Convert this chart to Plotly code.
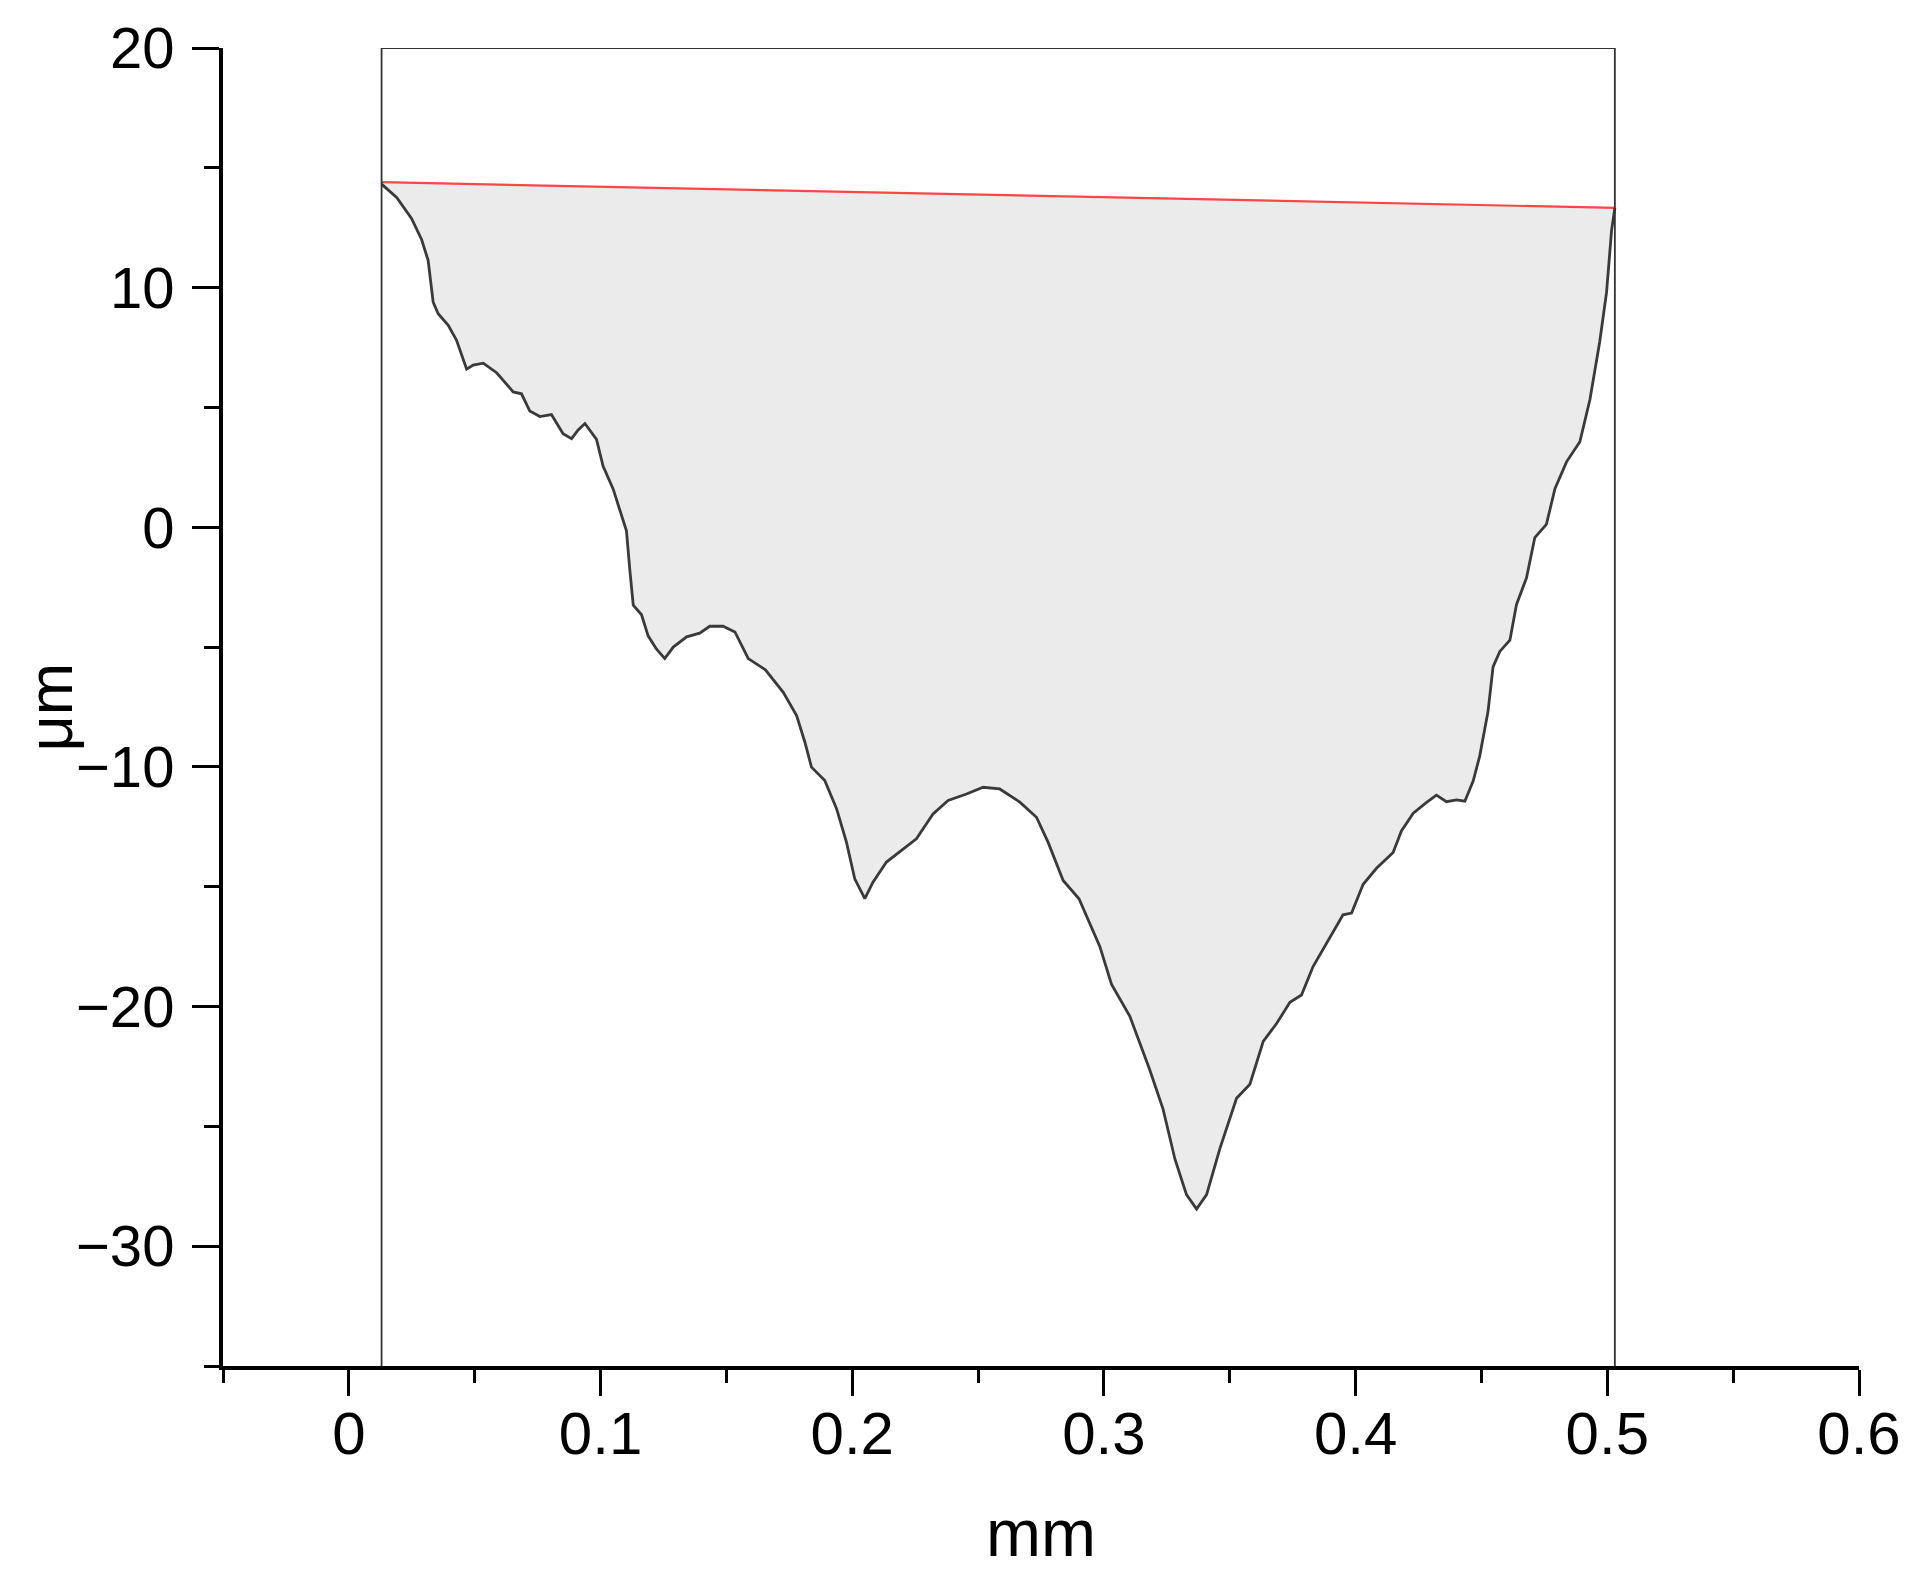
import plotly.graph_objects as go

# surface profile (mm, um)
profile_x = [0.0130, 0.0190, 0.0249, 0.0289, 0.0315, 0.0335, 0.0355, 0.0395, 0.0428, 0.0468,
             0.0494, 0.0534, 0.0587, 0.0653, 0.0686, 0.0719, 0.0759, 0.0805, 0.0851, 0.0885,
             0.0911, 0.0938, 0.0984, 0.1010, 0.1050, 0.1090, 0.1103, 0.1116, 0.1130, 0.1163,
             0.1189, 0.1222, 0.1255, 0.1289, 0.1342, 0.1394, 0.1434, 0.1487, 0.1534, 0.1587,
             0.1655, 0.1726, 0.1779, 0.1812, 0.1838, 0.1891, 0.1938, 0.1977, 0.2010, 0.2050,
             0.2083, 0.2136, 0.2189, 0.2255, 0.2321, 0.2381, 0.2454, 0.2520, 0.2586, 0.2666,
             0.2732, 0.2778, 0.2838, 0.2901, 0.2984, 0.3030, 0.3103, 0.3182, 0.3235, 0.3282,
             0.3328, 0.3368, 0.3408, 0.3461, 0.3527, 0.3580, 0.3633, 0.3686, 0.3739, 0.3785,
             0.3831, 0.3898, 0.3950, 0.3984, 0.4030, 0.4083, 0.4149, 0.4182, 0.4229, 0.4282,
             0.4321, 0.4361, 0.4401, 0.4434, 0.4467, 0.4493, 0.4526, 0.4546, 0.4573, 0.4613,
             0.4639, 0.4679, 0.4712, 0.4758, 0.4792, 0.4838, 0.4891, 0.4931, 0.4970, 0.4997,
             0.5017, 0.5030]
profile_y = [14.32, 13.76, 12.89, 12.01, 11.14, 9.39, 8.91, 8.43, 7.80, 6.60,
             6.77, 6.85, 6.45, 5.65, 5.57, 4.85, 4.62, 4.70, 3.90, 3.70,
             4.06, 4.33, 3.67, 2.55, 1.60, 0.25, -0.15, -1.74, -3.25, -3.65,
             -4.53, -5.08, -5.48, -5.00, -4.57, -4.42, -4.13, -4.13, -4.37, -5.48,
             -5.95, -6.89, -7.86, -8.97, -10.01, -10.57, -11.75, -13.14, -14.67, -15.50,
             -14.80, -13.97, -13.55, -13.00, -11.96, -11.40, -11.13, -10.85, -10.92, -11.47,
             -12.10, -13.14, -14.74, -15.50, -17.50, -19.07, -20.41, -22.64, -24.28, -26.36,
             -27.85, -28.45, -27.85, -25.92, -23.83, -23.24, -21.45, -20.71, -19.82, -19.52,
             -18.33, -17.14, -16.17, -16.10, -14.90, -14.23, -13.57, -12.67, -11.93, -11.48,
             -11.18, -11.45, -11.38, -11.43, -10.59, -9.55, -7.69, -5.83, -5.18, -4.71,
             -3.23, -2.11, -0.43, 0.12, 1.61, 2.73, 3.57, 5.33, 7.75, 9.80,
             12.40, 13.33]

# reference (red) line end points
ref_x = [0.013, 0.503]
ref_y = [14.4, 13.33]

x_range = [-0.05, 0.6]
y_range = [-35, 20]

font = "Liberation Sans, Arial, sans-serif"

fig = go.Figure()

# grey area between profile and reference line
fig.add_trace(go.Scatter(
    x=profile_x + ref_x[::-1],
    y=profile_y + ref_y[::-1],
    fill="toself", fillcolor="#ebebeb",
    line=dict(width=0), mode="lines", hoverinfo="skip"
))
fig.add_trace(go.Scatter(
    x=ref_x, y=ref_y, mode="lines",
    line=dict(color="#ff4545", width=2.2)
))
fig.add_trace(go.Scatter(
    x=profile_x, y=profile_y, mode="lines",
    line=dict(color="#3a3a3a", width=2.8)
))
# evaluation window box
fig.add_trace(go.Scatter(
    x=[profile_x[0], profile_x[0], profile_x[-1], profile_x[-1]],
    y=[y_range[0], y_range[1], y_range[1], y_range[0]],
    mode="lines", line=dict(color="#333333", width=1.8),
    cliponaxis=False
))

fig.update_layout(
    width=1915, height=1591,
    margin=dict(l=215, r=64, t=40, b=233),
    paper_bgcolor="white", plot_bgcolor="white",
    showlegend=False,
    font=dict(family=font, color="black"),
    annotations=[
        dict(text="mm", xref="paper", yref="paper", x=0.5, y=-0.127,
             xanchor="center", yanchor="middle", showarrow=False,
             font=dict(size=66)),
        dict(text="μm", xref="paper", yref="paper", x=-0.106, y=0.5,
             xanchor="center", yanchor="middle", showarrow=False,
             textangle=-90, font=dict(size=63)),
    ],
)

fig.update_xaxes(
    range=x_range, dtick=0.1, tick0=0, automargin=False,
    showgrid=False, zeroline=False,
    showline=True, linecolor="black", linewidth=4,
    ticks="outside", ticklen=26, tickwidth=3, tickcolor="black",
    minor=dict(ticks="outside", ticklen=13, tickwidth=3, tickcolor="black", dtick=0.05, showgrid=False),
    tickfont=dict(size=60), ticklabelstandoff=-14,
)
fig.update_yaxes(
    range=y_range, dtick=10, tick0=0, automargin=False,
    showgrid=False, zeroline=False,
    showline=True, linecolor="black", linewidth=4,
    ticks="outside", ticklen=27, tickwidth=3, tickcolor="black",
    minor=dict(ticks="outside", ticklen=15, tickwidth=3, tickcolor="black", dtick=5, showgrid=False),
    tickfont=dict(size=58), ticklabelstandoff=6,
)

fig.write_html("out.html")
